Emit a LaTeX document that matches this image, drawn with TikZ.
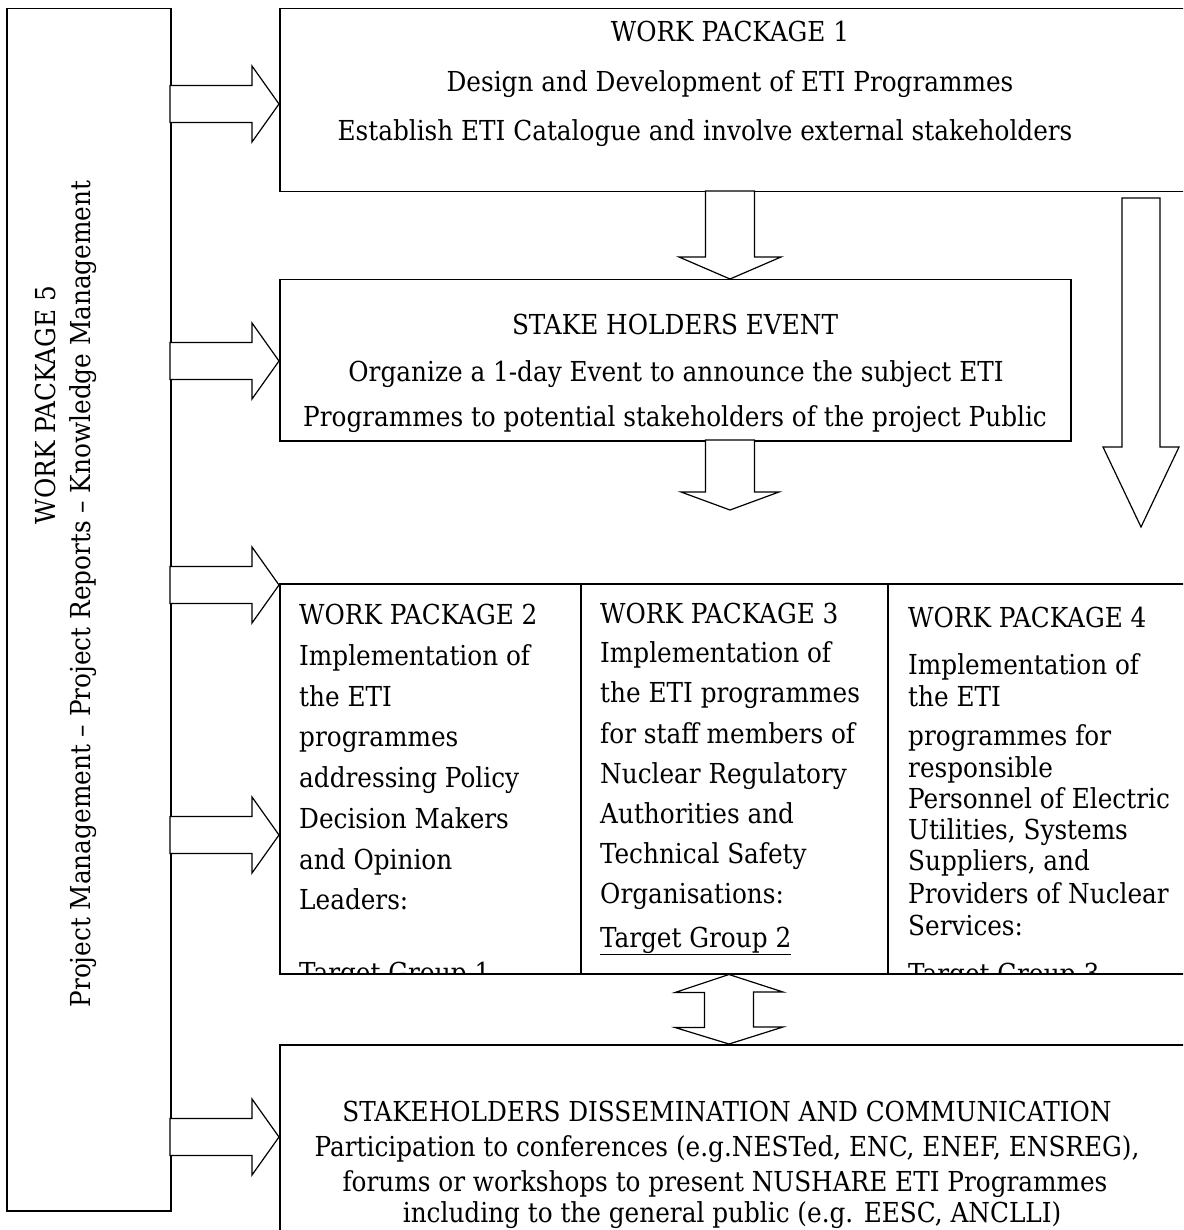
\documentclass[tikz,border=0pt]{standalone}
\usepackage{fontspec}
\setmainfont{DejaVu Serif Condensed}
\newcommand\rarr[1]{\draw[blk] (#1) -- ++(-27,-38) -- ++(0,19.5) -- ++(-82,0) -- ++(0,37) -- ++(82,0) -- ++(0,19.5) -- cycle;}
% #1 tip, #2 total length, #3 head length, #4 shaft half width, #5 head half width
\newcommand\darr[5]{\draw[blk] (#1) -- ++(-#5,-#3) -- ++({#5-#4},0) -- ++(0,{-(#2-#3)}) -- ++({2*#4},0) -- ++(0,{#2-#3}) -- ++({#5-#4},0) -- cycle;}
\begin{document}
\begin{tikzpicture}[x=1pt,y=-1pt,
  box/.style={draw,line width=1.5pt,rectangle,anchor=north west,inner sep=0pt},
  blk/.style={draw,line width=1.2pt,fill=white,line join=miter},
  txt/.style={inner sep=0pt,font=\fontsize{27.5}{32}\selectfont},
  ltxt/.style={txt,anchor=base west},
  ctxt/.style={txt,anchor=base}]
\useasboundingbox (0,0) rectangle (1183,1230);
\clip (0,0) rectangle (1183,1230);
\fill[white] (0,0) rectangle (1183,1230);

% boxes
\node[box,minimum width=164pt,minimum height=1202pt] (wp5) at (6,8) {};
\node[box,minimum width=920pt,minimum height=183pt] (wp1) at (279,8) {};
\node[box,minimum width=791pt,minimum height=161pt] (she) at (279,279) {};
\node[box,minimum width=301pt,minimum height=390pt] (wp2) at (279,583) {};
\node[box,minimum width=307pt,minimum height=390pt] (wp3) at (580,583) {};
\node[box,minimum width=320pt,minimum height=390pt] (wp4) at (887,583) {};
\node[box,minimum width=920pt,minimum height=200pt] (diss) at (279,1044) {};

% right block arrows from WP5
\coordinate (r1) at (wp1.west |- 0,104);
\coordinate (r2) at (she.west |- 0,361);
\coordinate (r3) at (wp2.west |- 0,585);
\coordinate (r4) at (wp2.west |- 0,835);
\coordinate (r5) at (diss.west |- 0,1137);
\foreach \t in {r1,r2,r3,r4,r5} {\rarr{\t}}

% down arrows
\coordinate (d1) at (she.north -| 730,0);
\darr{d1}{88}{22}{24.5}{51}
\coordinate (d2) at (730,510);
\darr{d2}{70}{18}{24.5}{49}
\coordinate (d3) at (1141,527);
\darr{d3}{329}{80}{19}{38}

% double arrow
\coordinate (u1) at (wp3.south -| 729,0);
\draw[blk] (u1) -- ++(-54,18) -- ++(29.5,0) -- ++(0,35) -- ++(-29.5,0) -- (diss.north -| 729,0) -- ++(54,-17) -- ++(-29.5,0) -- ++(0,-35) -- ++(29.5,0) -- cycle;

% WP5 text
\node[txt,rotate=90] (t5a) at (45,405) {WORK PACKAGE 5};
\node[txt,rotate=90] (t5b) at (83,594) {Project Management – Project Reports – Knowledge Management};

% WP1 text
\node[ctxt] (t1a) at (730,42) {WORK PACKAGE 1};
\node[ctxt] (t1b) at (730,92) {Design and Development of ETI Programmes};
\node[ctxt] (t1c) at (705,141) {Establish ETI Catalogue and involve external stakeholders};

% stakeholders event
\node[ctxt] (tsa) at (675,334) {STAKE HOLDERS EVENT};
\node[ctxt] (tsb) at (676,381) {Organize a 1-day Event to announce the subject ETI};
\node[ctxt] (tsc) at (675,426) {Programmes to potential stakeholders of the project Public};

\begin{scope}
\clip (279,583) rectangle (1183,973);
% WP2
\node[ltxt] at (299,624) {WORK PACKAGE 2};
\node[ltxt] at (299,665) {Implementation of};
\node[ltxt] at (299,706) {the ETI};
\node[ltxt] at (299,746) {programmes};
\node[ltxt] at (299,787) {addressing Policy};
\node[ltxt] at (299,828) {Decision Makers};
\node[ltxt] at (299,869) {and Opinion};
\node[ltxt] at (299,909) {Leaders:};
\node[ltxt] at (299,982) {Target Group 1};
% WP3
\node[ltxt] at (600,623) {WORK PACKAGE 3};
\node[ltxt] at (600,662) {Implementation of};
\node[ltxt] at (600,702) {the ETI programmes};
\node[ltxt] at (600,743) {for staff members of};
\node[ltxt] at (600,783) {Nuclear Regulatory};
\node[ltxt] at (600,823) {Authorities and};
\node[ltxt] at (600,863) {Technical Safety};
\node[ltxt] at (600,903) {Organisations:};
\node[ltxt] at (600,947) {\underline{Target Group 2}};
% WP4
\node[ltxt] at (908,627) {WORK PACKAGE 4};
\node[ltxt] at (908,674) {Implementation of};
\node[ltxt] at (908,706) {the ETI};
\node[ltxt] at (908,745) {programmes for};
\node[ltxt] at (908,777) {responsible};
\node[ltxt] at (908,808) {Personnel of Electric};
\node[ltxt] at (908,839) {Utilities, Systems};
\node[ltxt] at (908,870) {Suppliers, and};
\node[ltxt] at (908,903) {Providers of Nuclear};
\node[ltxt] at (908,935) {Services:};
\node[ltxt] at (908,983) {Target Group 3};
\end{scope}

% dissemination
\node[ctxt] (tda) at (727,1121) {STAKEHOLDERS DISSEMINATION AND COMMUNICATION};
\node[ctxt] (tdb) at (727,1156) {Participation to conferences (e.g.NESTed, ENC, ENEF, ENSREG),};
\node[ctxt] (tdc) at (725,1191) {forums or workshops to present NUSHARE ETI Programmes};
\node[ctxt] (tdd) at (732,1222) {including to the general public (e.g. EESC, ANCLLI)};
\end{tikzpicture}
\end{document}
